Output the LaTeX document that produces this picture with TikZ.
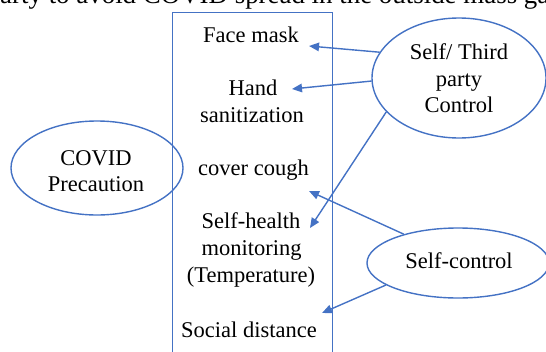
\documentclass[tikz,border=0pt]{standalone}
\usepackage{fontspec}
\setmainfont{Liberation Serif}
\usetikzlibrary{shapes.geometric,arrows.meta}
\definecolor{lineblue}{HTML}{4472C4}
\begin{document}
\begin{tikzpicture}[x=1pt,y=-1pt,
  txt/.style={font=\fontsize{22.5}{27}\selectfont, inner sep=0pt, anchor=base},
  oval/.style={draw=lineblue, line width=1.4pt, ellipse, inner sep=0pt},
  conn/.style={draw=lineblue, line width=1.4pt, -{Triangle[length=10pt,width=8.5pt]}}
]
\useasboundingbox (0,0) rectangle (546,351);
\clip (0,0) rectangle (546,351);
\node[font=\fontsize{26.9}{32}\selectfont, inner sep=0pt, anchor=base west] (top) at (0,3.5) {arty to avoid COVID spread in the outside mass ga};
\node[draw=lineblue, line width=1.4pt, anchor=north west, minimum width=160pt, minimum height=360pt, inner sep=0pt] (box) at (172,12) {};
% ellipses
\node[oval, minimum width=172pt, minimum height=94pt] (covid) at (97,168) {};
\node[oval, minimum width=174pt, minimum height=120pt] (third) at (459,78) {};
\node[oval, minimum width=182pt, minimum height=70pt] (self) at (458,263) {};
% ellipse texts
\node[txt] (c1) at (96,165) {COVID};
\node[txt] (c2) at (96,191) {Precaution};
\node[txt] (s1) at (459,59) {Self/ Third};
\node[txt] (s2) at (459,86) {party};
\node[txt] (s3) at (459,112) {Control};
\node[txt] (sc) at (459,268) {Self-control};
% box texts
\node[txt] (fm) at (251,42) {Face mask};
\node[txt] (h1) at (253,95.5) {Hand};
\node[txt] (h2) at (252,122.5) {sanitization};
\node[txt] (cc) at (253.5,175) {cover cough};
\node[txt] (m1) at (251,228) {Self-health};
\node[txt] (m2) at (251.5,255) {monitoring};
\node[txt] (m3) at (251,282) {(Temperature)};
\node[txt] (sd) at (249,337) {Social distance};
% arrow targets
\coordinate (t1) at (309,46);
\coordinate (t2) at (292,89);
\coordinate (t3) at (310,228);
\coordinate (t4) at (309,191);
\coordinate (t5) at (322,313);
\draw[conn] (third.162) -- (t1);
\draw[conn] (third.182) -- (t2);
\draw[conn] (third.205) -- (t3);
\draw[conn] (self.152) -- (t4);
\draw[conn] (self.197) -- (t5);
\end{tikzpicture}
\end{document}
